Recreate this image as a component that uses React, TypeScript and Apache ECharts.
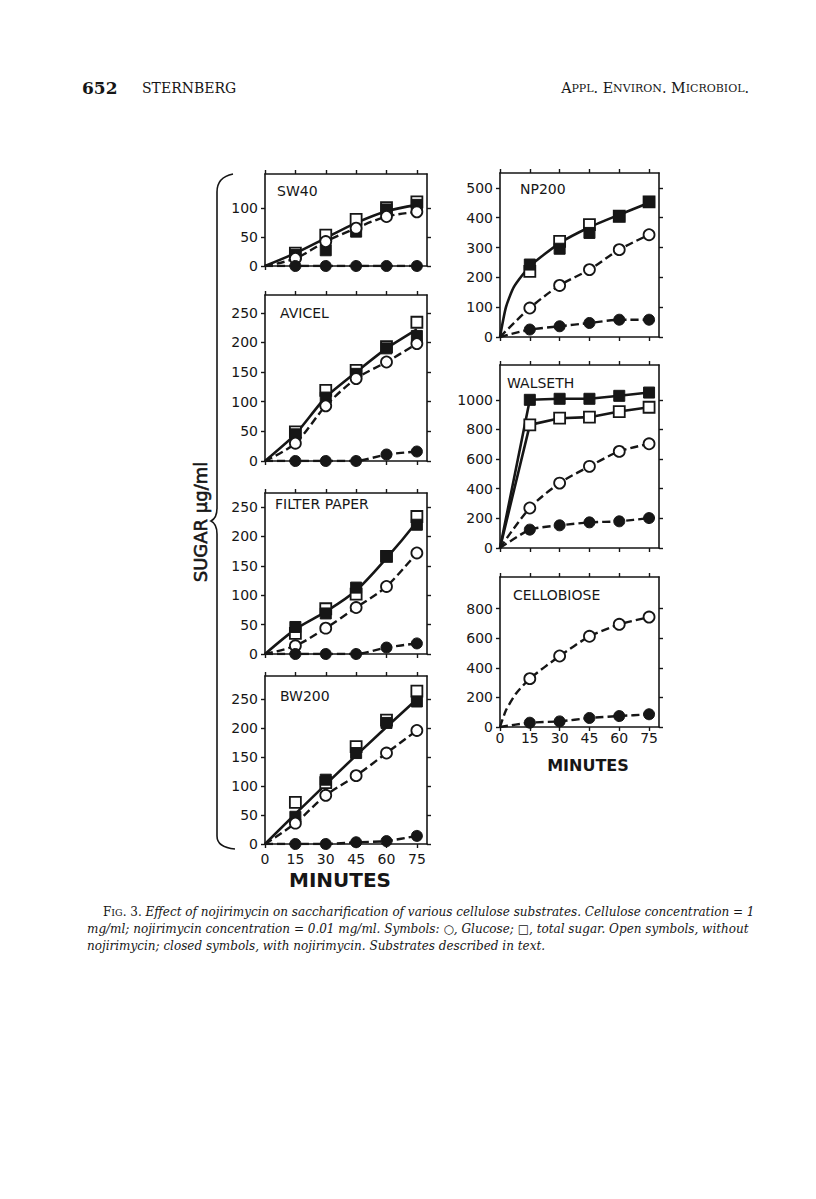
import React, { useEffect, useRef } from "react";
import * as echarts from "echarts";

// ---------------- DATA ----------------
const MINUTES = [0, 15, 30, 45, 60, 75];
const X_TICKS = [0, 15, 30, 45, 60, 75];

// SW40
const SW40_OPEN_SQ = [0, 22, 53, 80, 100, 110];
const SW40_FILL_SQ = [0, 19, 27, 59, 97, 105];
const SW40_OPEN_CI = [0, 13, 42, 65, 85, 93];
const SW40_FILL_CI = [0, 0, 0, 0, 0, 0];
const SW40_FIT_T = [0, 15, 30, 45, 60, 75];
const SW40_FIT_V = [0, 22, 48, 74, 94, 105];
const SW40_Y_TICKS = [0, 50, 100];

// AVICEL
const AVICEL_OPEN_SQ = [0, 49, 119, 153, 193, 234];
const AVICEL_FILL_SQ = [0, 45, 107, 147, 190, 211];
const AVICEL_OPEN_CI = [0, 30, 93, 139, 167, 198];
const AVICEL_FILL_CI = [0, 0, 0, 0, 11, 16];
const AVICEL_FIT_T = [0, 15, 30, 45, 60, 75];
const AVICEL_FIT_V = [0, 45, 108, 150, 190, 222];
const AVICEL_Y_TICKS = [0, 50, 100, 150, 200, 250];

// FILTER PAPER
const FILTER_OPEN_SQ = [0, 35, 77, 102, 166, 234];
const FILTER_FILL_SQ = [0, 46, 69, 113, 166, 220];
const FILTER_OPEN_CI = [0, 14, 44, 79, 115, 172];
const FILTER_FILL_CI = [0, 0, 0, 0, 11, 18];
const FILTER_FIT_T = [0, 15, 30, 45, 60, 75];
const FILTER_FIT_V = [0, 42, 72, 108, 163, 225];
const FILTER_Y_TICKS = [0, 50, 100, 150, 200, 250];

// BW200
const BW200_OPEN_SQ = [0, 72, 106, 168, 214, 264];
const BW200_FILL_SQ = [0, 47, 111, 157, 209, 246];
const BW200_OPEN_CI = [0, 36, 84, 118, 157, 196];
const BW200_FILL_CI = [0, 0, 0, 3, 5, 14];
const BW200_FIT_T = [0, 15, 30, 45, 60, 75];
const BW200_FIT_V = [0, 52, 103, 153, 202, 250];
const BW200_Y_TICKS = [0, 50, 100, 150, 200, 250];

// NP200
const NP200_OPEN_SQ = [0, 220, 321, 377, 405, 453];
const NP200_FILL_SQ = [0, 243, 296, 349, 405, 453];
const NP200_OPEN_CI = [0, 97, 173, 226, 293, 343];
const NP200_FILL_CI = [0, 25, 36, 47, 58, 58];
const NP200_FIT_T = [0, 3, 7, 15, 30, 45, 60, 75];
const NP200_FIT_V = [0, 100, 168, 237, 315, 368, 410, 450];
const NP200_Y_TICKS = [0, 100, 200, 300, 400, 500];

// WALSETH
const WALSETH_OPEN_SQ = [0, 831, 876, 883, 921, 950];
const WALSETH_FILL_SQ = [0, 1000, 1007, 1007, 1027, 1049];
const WALSETH_OPEN_CI = [0, 270, 438, 551, 652, 703];
const WALSETH_FILL_CI = [0, 124, 153, 173, 180, 202];
const WALSETH_Y_TICKS = [0, 200, 400, 600, 800, 1000];

// CELLOBIOSE
const CELLO_OPEN_CI = [0, 327, 480, 613, 694, 743];
const CELLO_FILL_CI = [0, 29, 38, 61, 74, 86];
const CELLO_GLUC_T = [0, 3, 8, 15, 30, 45, 60, 75];
const CELLO_GLUC_V = [0, 113, 225, 327, 480, 613, 694, 743];
const CELLO_Y_TICKS = [0, 200, 400, 600, 800];

// ---------------- LAYOUT ----------------
type Panel = {
  title: string;
  titleX: number;
  titleY: number;
  left: number;
  top: number;
  width: number;
  height: number;
  ymax: number;
  yTicks: number[];
  showX: boolean;
  xMargin: number;
  openSq?: number[];
  fillSq?: number[];
  openCi: number[];
  fillCi: number[];
  fitT?: number[];
  fitV?: number[];
  eachSquareLine?: boolean;
  glucT?: number[];
  glucV?: number[];
  fitSmooth?: number;
  glucSmooth?: number;
};

const LX = 265;
const LW = 162;
const RX = 500;
const RW = 159;

const PANELS: Panel[] = [
  { title: "SW40", titleX: 277, titleY: 191, left: LX, top: 174, width: LW, height: 92, ymax: 158, yTicks: SW40_Y_TICKS, showX: false, xMargin: 8,
    openSq: SW40_OPEN_SQ, fillSq: SW40_FILL_SQ, openCi: SW40_OPEN_CI, fillCi: SW40_FILL_CI, fitT: SW40_FIT_T, fitV: SW40_FIT_V, fitSmooth: 0.3 },
  { title: "AVICEL", titleX: 280, titleY: 313, left: LX, top: 295, width: LW, height: 166, ymax: 280, yTicks: AVICEL_Y_TICKS, showX: false, xMargin: 8,
    openSq: AVICEL_OPEN_SQ, fillSq: AVICEL_FILL_SQ, openCi: AVICEL_OPEN_CI, fillCi: AVICEL_FILL_CI, fitT: AVICEL_FIT_T, fitV: AVICEL_FIT_V, fitSmooth: 0.15 },
  { title: "FILTER PAPER", titleX: 275, titleY: 504, left: LX, top: 493, width: LW, height: 161, ymax: 274, yTicks: FILTER_Y_TICKS, showX: false, xMargin: 8,
    openSq: FILTER_OPEN_SQ, fillSq: FILTER_FILL_SQ, openCi: FILTER_OPEN_CI, fillCi: FILTER_FILL_CI, fitT: FILTER_FIT_T, fitV: FILTER_FIT_V, fitSmooth: 0.3 },
  { title: "BW200", titleX: 280, titleY: 696, left: LX, top: 676, width: LW, height: 168, ymax: 290, yTicks: BW200_Y_TICKS, showX: true, xMargin: 8,
    openSq: BW200_OPEN_SQ, fillSq: BW200_FILL_SQ, openCi: BW200_OPEN_CI, fillCi: BW200_FILL_CI, fitT: BW200_FIT_T, fitV: BW200_FIT_V, fitSmooth: 0 },
  { title: "NP200", titleX: 520, titleY: 189, left: RX, top: 173, width: RW, height: 164, ymax: 550, yTicks: NP200_Y_TICKS, showX: false, xMargin: 8,
    openSq: NP200_OPEN_SQ, fillSq: NP200_FILL_SQ, openCi: NP200_OPEN_CI, fillCi: NP200_FILL_CI, fitT: NP200_FIT_T, fitV: NP200_FIT_V, fitSmooth: 0.2 },
  { title: "WALSETH", titleX: 507, titleY: 383, left: RX, top: 365, width: RW, height: 183, ymax: 1235, yTicks: WALSETH_Y_TICKS, showX: false, xMargin: 8,
    openSq: WALSETH_OPEN_SQ, fillSq: WALSETH_FILL_SQ, openCi: WALSETH_OPEN_CI, fillCi: WALSETH_FILL_CI, eachSquareLine: true },
  { title: "CELLOBIOSE", titleX: 513, titleY: 595, left: RX, top: 577, width: RW, height: 150, ymax: 1014, yTicks: CELLO_Y_TICKS, showX: true, xMargin: 4,
    openCi: CELLO_OPEN_CI, fillCi: CELLO_FILL_CI, glucT: CELLO_GLUC_T, glucV: CELLO_GLUC_V, glucSmooth: 0.2 },
];

const INK = "#161616";
const SANS = "DejaVu Sans";
const SERIF = "DejaVu Serif";

const BRACE_D =
  "M233,174 C223,176 217,182 217,192 L217,508 C217,515 215,519 211,521 C215,523 217,527 217,534 L217,836 C217,844 224,848 235,849";

echarts.graphic.registerShape("brace", echarts.graphic.extendPath(BRACE_D, {}) as any);

function pairs(t: number[], v: number[]) {
  return t.map((x, i) => [x, v[i]]);
}
function marks(v: number[]) {
  return MINUTES.slice(1).map((x, i) => [x, v[i + 1]]);
}

function buildOption() {
  const grid: any[] = [];
  const xAxis: any[] = [];
  const yAxis: any[] = [];
  const series: any[] = [];
  const graphic: any[] = [];

  const axisLine = { show: true, onZero: false, lineStyle: { color: INK, width: 1.6 } };
  const axisTickBase = { show: true, inside: false, length: 4, lineStyle: { color: INK, width: 1.4 } };
  const labelBase = { color: INK, fontFamily: SANS, fontSize: 14, formatter: (v: number) => String(v) };

  PANELS.forEach((p, i) => {
    grid.push({ left: p.left, top: p.top, width: p.width, height: p.height, show: false });
    xAxis.push({
      gridIndex: i, type: "value", position: "bottom", min: 0, max: 80,
      axisLine, axisTick: { ...axisTickBase, customValues: X_TICKS },
      axisLabel: { ...labelBase, show: p.showX, margin: p.xMargin, customValues: X_TICKS },
      splitLine: { show: false },
    });
    xAxis.push({
      gridIndex: i, type: "value", position: "top", min: 0, max: 80,
      axisLine, axisTick: { ...axisTickBase, customValues: X_TICKS },
      axisLabel: { show: false }, splitLine: { show: false },
    });
    yAxis.push({
      gridIndex: i, type: "value", position: "left", min: 0, max: p.ymax,
      axisLine, axisTick: { ...axisTickBase, customValues: p.yTicks },
      axisLabel: { ...labelBase, margin: 7, customValues: p.yTicks },
      splitLine: { show: false },
    });
    yAxis.push({
      gridIndex: i, type: "value", position: "right", min: 0, max: p.ymax,
      axisLine, axisTick: { ...axisTickBase, customValues: p.yTicks },
      axisLabel: { show: false }, splitLine: { show: false },
    });
    const xi = 2 * i;
    const yi = 2 * i;
    const solid = { color: INK, width: 2.6, type: "solid" };
    const dashed = { color: INK, width: 2.4, type: [8, 4] };
    const lineBase = { type: "line", xAxisIndex: xi, yAxisIndex: yi, showSymbol: false, symbol: "none", silent: true, z: 2 };

    if (p.fitT && p.fitV) {
      series.push({ ...lineBase, name: p.title + " total", data: pairs(p.fitT, p.fitV), smooth: p.fitSmooth || false, lineStyle: solid });
    }
    if (p.eachSquareLine && p.openSq && p.fillSq) {
      series.push({ ...lineBase, name: p.title + " total open", data: pairs(MINUTES, p.openSq), lineStyle: solid });
      series.push({ ...lineBase, name: p.title + " total closed", data: pairs(MINUTES, p.fillSq), lineStyle: solid });
    }
    const gT = p.glucT || MINUTES;
    const gV = p.glucV || p.openCi;
    series.push({ ...lineBase, name: p.title + " glucose open", data: pairs(gT, gV), smooth: p.glucSmooth ?? 0.3, lineStyle: dashed });
    series.push({ ...lineBase, name: p.title + " glucose closed", data: pairs(MINUTES, p.fillCi), smooth: 0.2, lineStyle: dashed });

    const sc = { type: "scatter", xAxisIndex: xi, yAxisIndex: yi, silent: true, z: 5 };
    if (p.openSq) {
      series.push({ ...sc, name: p.title + " total sugar open", symbol: "rect", symbolSize: 11, data: marks(p.openSq),
        itemStyle: { color: "#fff", borderColor: INK, borderWidth: 1.8, opacity: 1 } });
    }
    if (p.fillSq) {
      series.push({ ...sc, name: p.title + " total sugar closed", symbol: "rect", symbolSize: 11, data: marks(p.fillSq),
        itemStyle: { color: INK, borderColor: INK, borderWidth: 1, opacity: 1 } });
    }
    series.push({ ...sc, name: p.title + " glucose open pts", symbol: "circle", symbolSize: 11, data: marks(p.openCi),
      itemStyle: { color: "#fff", borderColor: INK, borderWidth: 1.8, opacity: 1 } });
    series.push({ ...sc, name: p.title + " glucose closed pts", symbol: "circle", symbolSize: 11, data: marks(p.fillCi),
      itemStyle: { color: INK, borderColor: INK, borderWidth: 1, opacity: 1 } });

    graphic.push({
      type: "text", x: p.titleX, y: p.titleY, z: 10,
      style: { text: p.title, fill: INK, font: `14px "${SANS}"`, textVerticalAlign: "middle", textAlign: "left" },
    });
  });

  // Axis titles
  graphic.push({
    type: "text", x: 340, y: 880, z: 10,
    style: { text: "MINUTES", fill: INK, font: `bold 20px "${SANS}"`, textAlign: "center", textVerticalAlign: "middle" },
  });
  graphic.push({
    type: "text", x: 588, y: 765, z: 10,
    style: { text: "MINUTES", fill: INK, font: `bold 16px "${SANS}"`, textAlign: "center", textVerticalAlign: "middle" },
  });
  graphic.push({
    type: "text", x: 200, y: 522, rotation: Math.PI / 2, z: 10,
    style: { text: "SUGAR µg/ml", fill: INK, font: `18px "${SANS}"`, textAlign: "center", textVerticalAlign: "middle",
      stroke: INK, lineWidth: 0.6 },
  });
  graphic.push({
    type: "brace", x: 0, y: 0, z: 10,
    style: { fill: "none", stroke: INK, lineWidth: 1.6 },
  });

  // Header
  graphic.push({
    type: "text", x: 82, y: 88, z: 10,
    style: { text: "652", fill: INK, font: `bold 17px "${SERIF}"`, textVerticalAlign: "middle", textAlign: "left" },
  });
  graphic.push({
    type: "text", x: 142, y: 88, z: 10,
    style: { text: "STERNBERG", fill: INK, font: `14px "${SERIF}"`, textVerticalAlign: "middle", textAlign: "left" },
  });
  graphic.push({
    type: "text", x: 749, y: 88, z: 10,
    style: {
      text: "{c|A}{s|PPL}{c|. E}{s|NVIRON}{c|. M}{s|ICROBIOL}{c|.}",
      textAlign: "right", textVerticalAlign: "middle",
      rich: {
        c: { fill: INK, fontFamily: SERIF, fontSize: 14.3 },
        s: { fill: INK, fontFamily: SERIF, fontSize: 11 },
      },
    },
  });

  // Caption
  const capRich = {
    c: { fill: INK, fontFamily: SERIF, fontSize: 12 },
    s: { fill: INK, fontFamily: SERIF, fontSize: 9.5 },
    i: { fill: INK, fontFamily: SERIF, fontSize: 12, fontStyle: "italic" },
  };
  graphic.push({
    type: "text", x: 103, y: 912, z: 10,
    style: {
      text: "{c|F}{s|IG}{c|. 3. }{i|Effect of nojirimycin on saccharification of various cellulose substrates. Cellulose concentration = 1}",
      textVerticalAlign: "middle", rich: capRich,
    },
  });
  graphic.push({
    type: "text", x: 87, y: 929, z: 10,
    style: {
      text: "{i|mg/ml; nojirimycin concentration = 0.01 mg/ml. Symbols: }{c|○}{i|, Glucose; }{c|□}{i|, total sugar. Open symbols, without}",
      textVerticalAlign: "middle", rich: capRich,
    },
  });
  graphic.push({
    type: "text", x: 87, y: 946, z: 10,
    style: {
      text: "{i|nojirimycin; closed symbols, with nojirimycin. Substrates described in text.}",
      textVerticalAlign: "middle", rich: capRich,
    },
  });

  return {
    animation: false,
    backgroundColor: "#ffffff",
    grid, xAxis, yAxis, series, graphic,
  };
}

export default function App() {
  const ref = useRef<HTMLDivElement>(null);
  useEffect(() => {
    document.body.style.margin = "0";
    if (!ref.current) return;
    const chart = echarts.init(ref.current, null, { renderer: "svg" });
    chart.setOption(buildOption() as any);
    return () => chart.dispose();
  }, []);
  return <div ref={ref} style={{ width: 816, height: 1199, background: "#fff" }} />;
}
